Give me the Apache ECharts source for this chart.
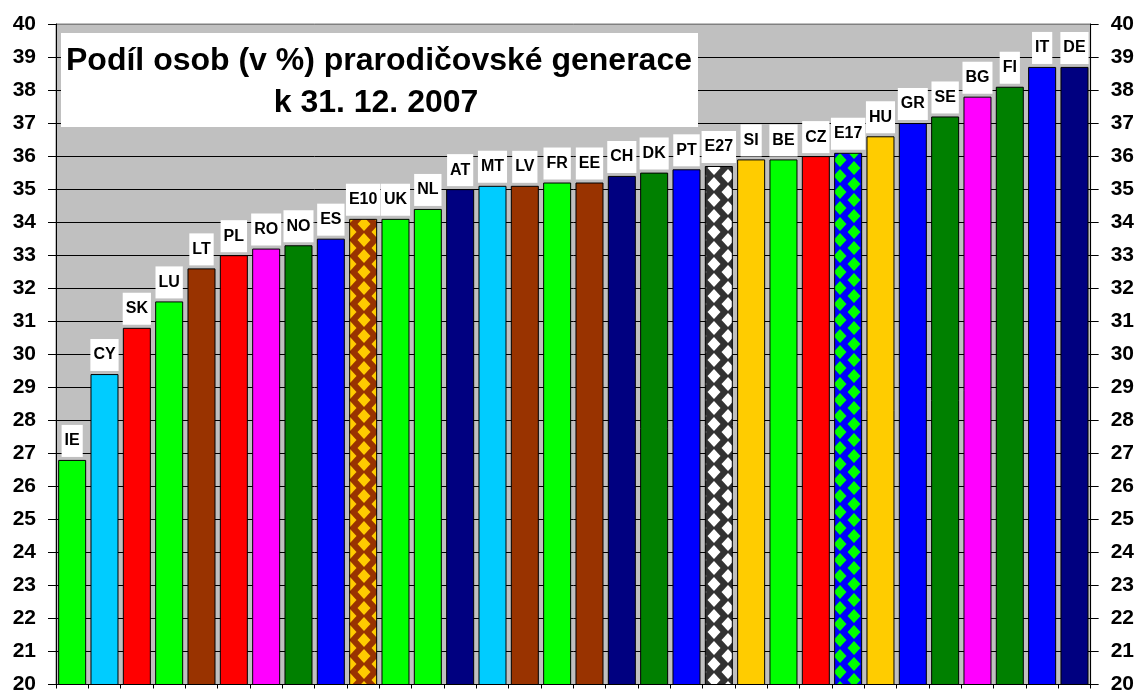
<!DOCTYPE html>
<html><head><meta charset="utf-8">
<script src="https://cdn.jsdelivr.net/npm/echarts@6/dist/echarts.min.js"></script>
<style>html,body{margin:0;padding:0;background:#fff}#c{width:1137px;height:695px}</style>
</head><body><div id="c"></div>
<script>
const categories = ['IE','CY','SK','LU','LT','PL','RO','NO','ES','E10','UK','NL','AT','MT','LV','FR','EE','CH','DK','PT','E27','SI','BE','CZ','E17','HU','GR','SE','BG','FI','IT','DE'];
const values = [26.8,29.4,30.8,31.6,32.6,33.0,33.2,33.3,33.5,34.1,34.1,34.4,35.0,35.1,35.1,35.2,35.2,35.4,35.5,35.6,35.7,35.9,35.9,36.0,36.1,36.6,37.0,37.2,37.8,38.1,38.7,38.7];
const yMin = 20, yMax = 40, yStep = 1;
const titleLine1 = 'Podíl osob (v %) prarodičovské generace';
const titleLine2 = 'k 31. 12. 2007';

// styles (kept separate from data)
const barColors = ['#00FF00','#00CCFF','#FF0000','#00FF00','#993300','#FF0000','#FF00FF','#008000','#0000FF','P:#993300:#FFCC00','#00FF00','#00FF00','#000080','#00CCFF','#993300','#00FF00','#993300','#000080','#008000','#0000FF','P:#333333:#FFFFFF','#FFCC00','#00FF00','#FF0000','P:#0000FF:#00FF00','#FFCC00','#0000FF','#008000','#FF00FF','#008000','#0000FF','#000080'];

function makePattern(bg, fg) {
  const w = 28, h = 16;
  const c = document.createElement('canvas');
  c.width = w; c.height = h;
  const g = c.getContext('2d');
  g.fillStyle = bg; g.fillRect(0, 0, w, h);
  g.fillStyle = fg;
  const dw = 6.5, dh = 7;
  const diamond = (cx, cy) => {
    g.beginPath();
    g.moveTo(cx, cy - dh); g.lineTo(cx + dw, cy); g.lineTo(cx, cy + dh); g.lineTo(cx - dw, cy);
    g.closePath(); g.fill();
  };
  [[0,0],[w,0],[0,h],[w,h],[w/2,h/2]].forEach(p => diamond(p[0], p[1]));
  return { image: c, repeat: 'repeat' };
}
function resolveColor(s) {
  if (s.startsWith('P:')) { const p = s.split(':'); return makePattern(p[1], p[2]); }
  return s;
}

const FONT = '"Liberation Sans", Arial, sans-serif';
const chart = echarts.init(document.getElementById('c'), null, { renderer: 'canvas' });
const seriesData = values.map((v, i) => ({ value: v, itemStyle: { color: resolveColor(barColors[i]), borderColor: '#000', borderWidth: 1 } }));

const nLines = Math.round((yMax - yMin) / yStep) + 1;
const splitColors = Array.from({ length: nLines }, (_, i) => i === nLines - 1 ? '#808080' : '#000');

const yAxisCommon = {
  type: 'value', min: yMin, max: yMax, interval: yStep,
  axisLine: { show: true, lineStyle: { color: '#000', width: 1 } },
  axisTick: { show: true, length: 8, lineStyle: { color: '#000' } },
  axisLabel: { color: '#000', fontSize: 21, fontWeight: 'bold', fontFamily: FONT, margin: 20 }
};

chart.setOption({
  animation: false,
  backgroundColor: '#fff',
  grid: { left: 56, right: 46, top: 24, bottom: 9, show: true, backgroundColor: '#C0C0C0', borderColor: '#808080', borderWidth: 1 },
  xAxis: {
    type: 'category', data: categories, boundaryGap: true,
    axisLine: { show: true, lineStyle: { color: '#000', width: 1 } },
    axisTick: { show: true, length: 4, interval: 0, alignWithLabel: false, lineStyle: { color: '#000' } },
    axisLabel: { show: false },
    splitLine: { show: false }
  },
  yAxis: [
    Object.assign({}, yAxisCommon, { position: 'left', splitLine: { show: true, lineStyle: { color: splitColors, width: 1 } } }),
    Object.assign({}, yAxisCommon, { position: 'right', splitLine: { show: false } })
  ],
  series: [{
    type: 'bar', yAxisIndex: 0, barWidth: 28, data: seriesData,
    itemStyle: { borderColor: '#000', borderWidth: 1 },
    label: {
      show: true, position: 'top', distance: 3,
      formatter: p => categories[p.dataIndex],
      backgroundColor: '#fff', padding: [8, 3, 8, 3],
      color: '#000', fontSize: 16, fontWeight: 'bold', fontFamily: FONT, lineHeight: 16
    }
  }],
  graphic: [
    { type: 'rect', z: 100, shape: { x: 61, y: 33, width: 637, height: 94 }, style: { fill: '#fff' } },
    { type: 'text', z: 101, x: 379, y: 61, style: { text: titleLine1, font: 'bold 32px ' + FONT, fill: '#000', textAlign: 'center', textVerticalAlign: 'middle' } },
    { type: 'text', z: 101, x: 376, y: 103, style: { text: titleLine2, font: 'bold 32px ' + FONT, fill: '#000', textAlign: 'center', textVerticalAlign: 'middle' } }
  ]
});
</script></body></html>
